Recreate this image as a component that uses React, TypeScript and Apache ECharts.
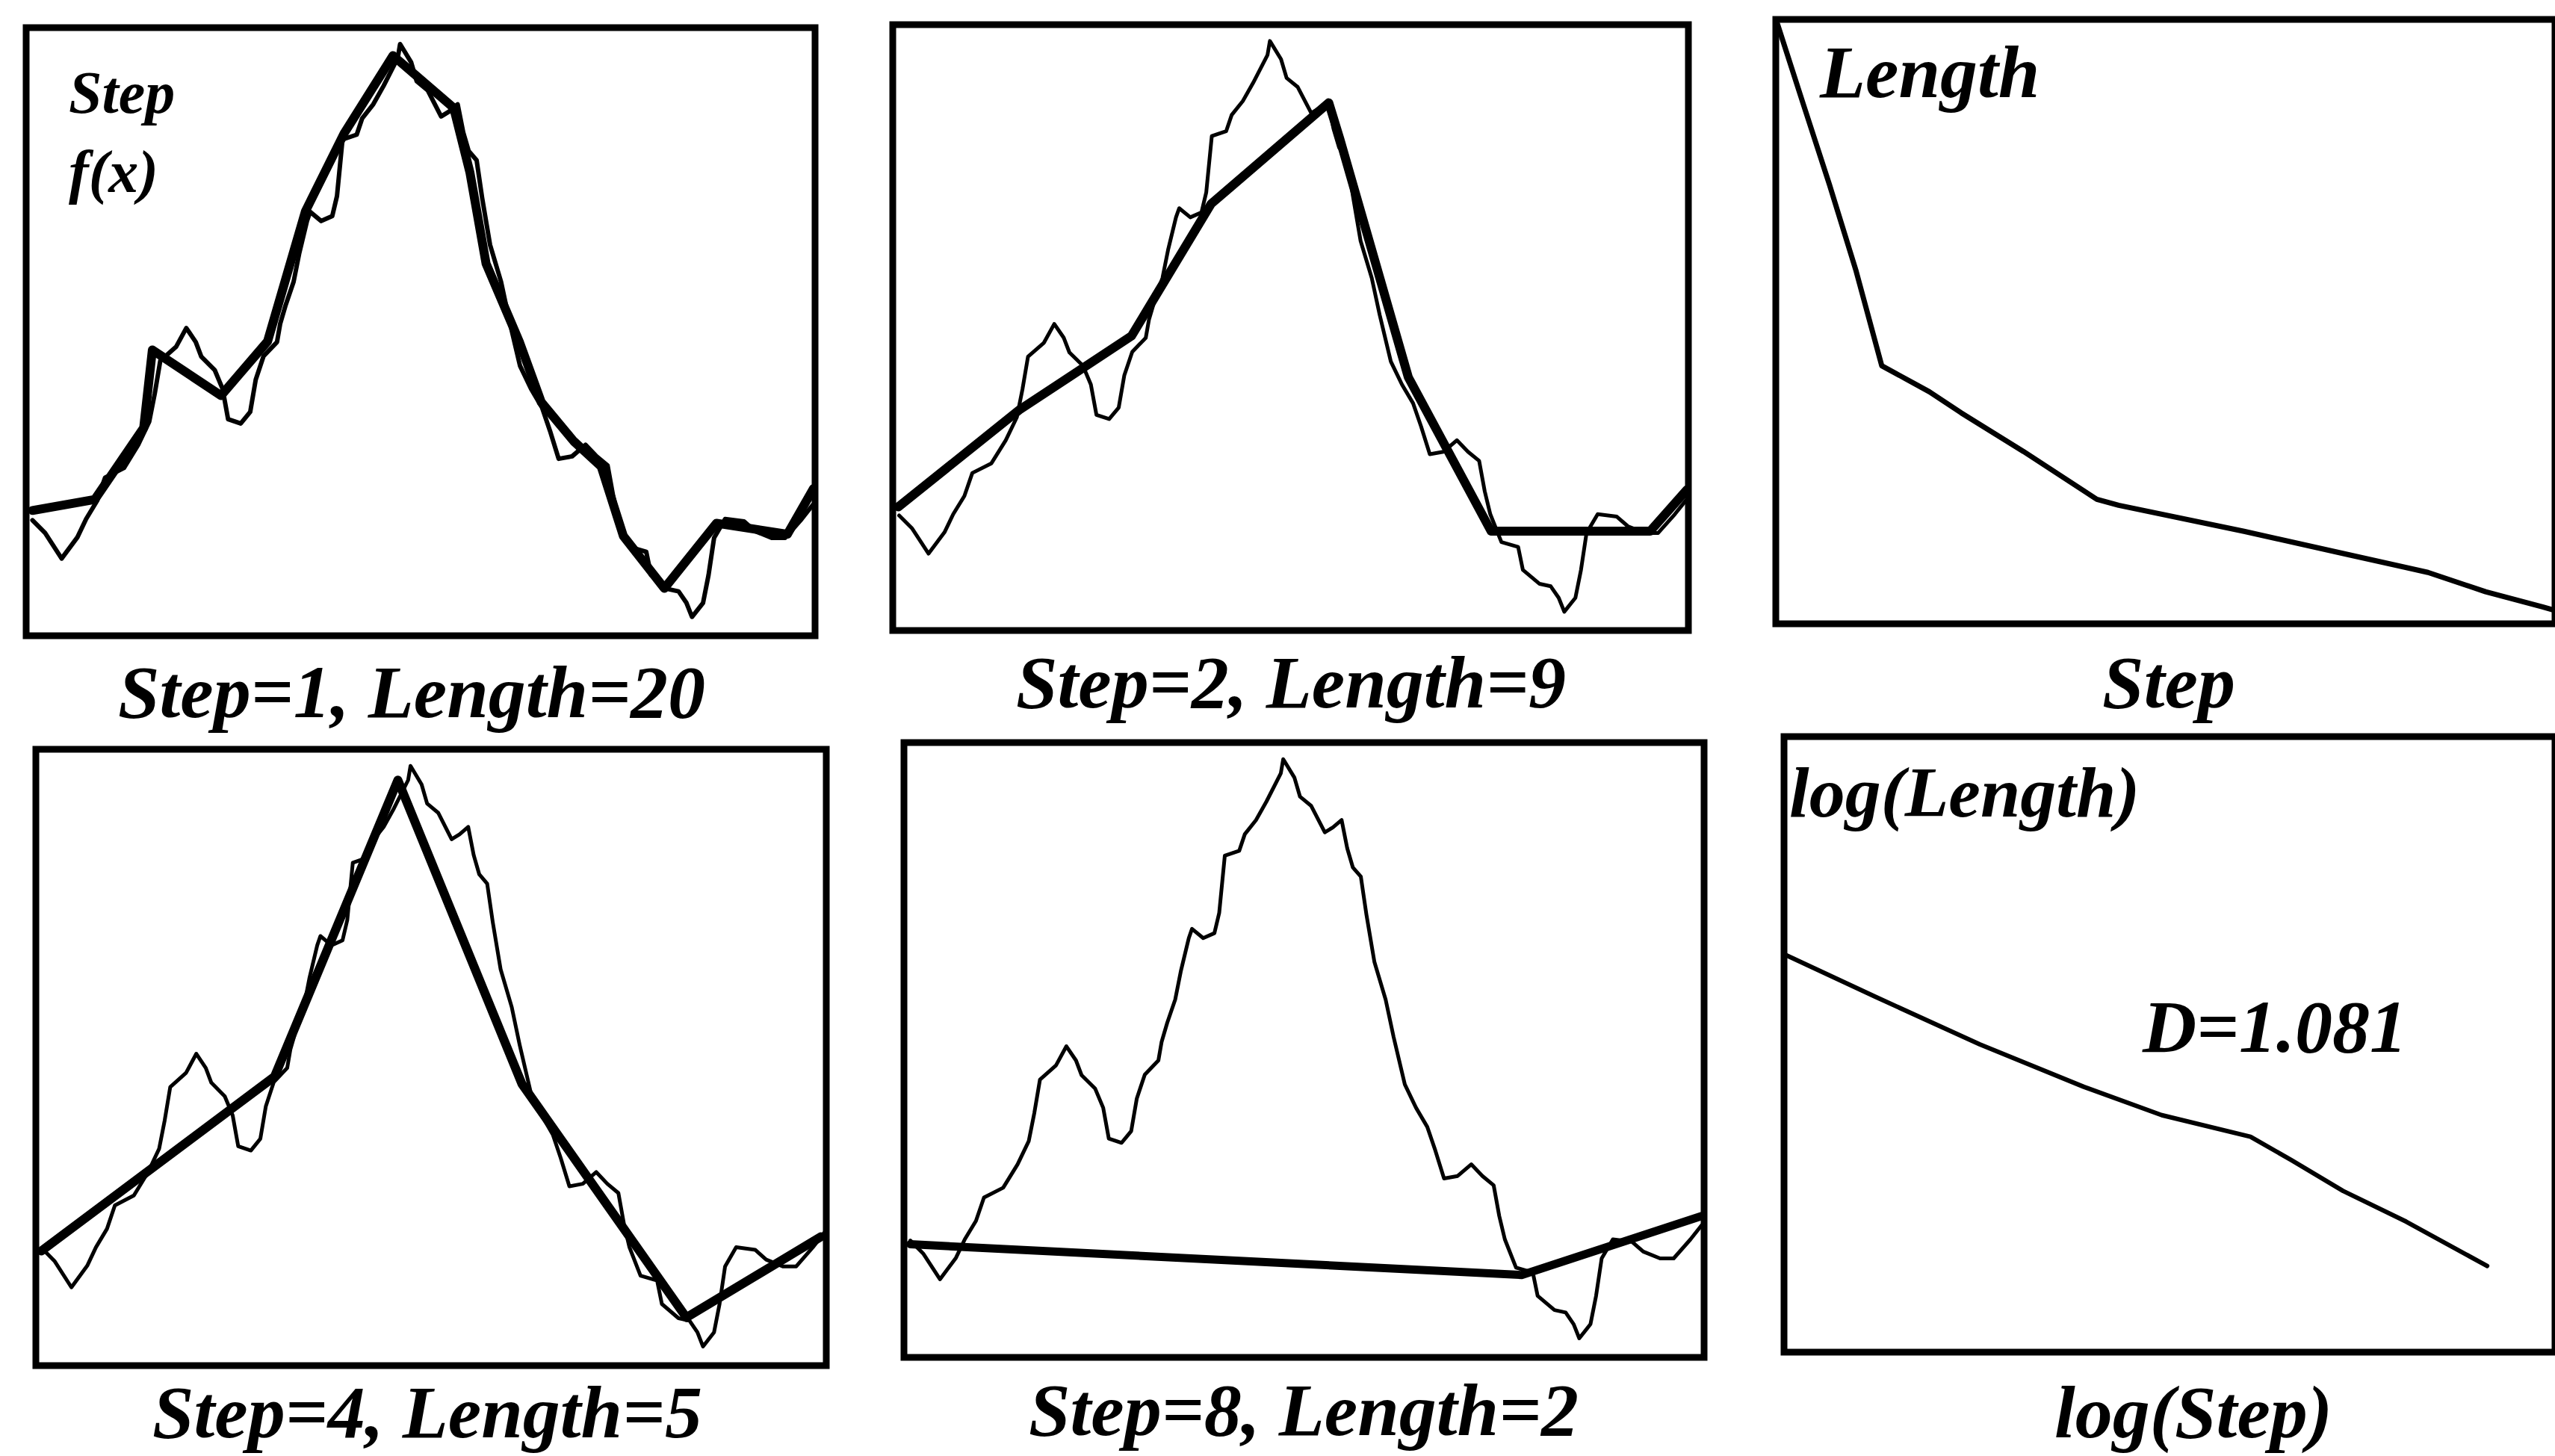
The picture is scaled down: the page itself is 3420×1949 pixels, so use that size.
import React, { useEffect, useRef } from "react";
import * as echarts from "echarts";

// f(x): the jagged profile (normalised: x and y from 0 to 1 across each box)
const curveX = [0.008, 0.024, 0.045, 0.065, 0.076, 0.09, 0.1, 0.124, 0.142, 0.156, 0.163, 0.17, 0.19, 0.203, 0.215, 0.222, 0.239, 0.249, 0.256, 0.272, 0.284, 0.291, 0.301, 0.318, 0.322, 0.329, 0.339, 0.346, 0.356, 0.36, 0.374, 0.388, 0.394, 0.401, 0.419, 0.426, 0.44, 0.453, 0.471, 0.474, 0.488, 0.495, 0.509, 0.526, 0.536, 0.547, 0.554, 0.561, 0.571, 0.578, 0.588, 0.602, 0.612, 0.626, 0.64, 0.654, 0.664, 0.675, 0.692, 0.709, 0.723, 0.737, 0.744, 0.751, 0.765, 0.786, 0.792, 0.813, 0.827, 0.837, 0.844, 0.858, 0.865, 0.872, 0.886, 0.91, 0.924, 0.945, 0.962, 0.983, 0.997];
const curveY = [0.19, 0.169, 0.127, 0.162, 0.192, 0.222, 0.26, 0.276, 0.314, 0.352, 0.398, 0.452, 0.475, 0.506, 0.483, 0.459, 0.437, 0.406, 0.356, 0.349, 0.368, 0.421, 0.46, 0.483, 0.513, 0.544, 0.582, 0.628, 0.682, 0.697, 0.682, 0.69, 0.723, 0.816, 0.824, 0.851, 0.874, 0.904, 0.95, 0.973, 0.943, 0.912, 0.897, 0.854, 0.862, 0.874, 0.828, 0.797, 0.782, 0.72, 0.643, 0.582, 0.521, 0.444, 0.406, 0.375, 0.337, 0.291, 0.295, 0.314, 0.295, 0.28, 0.23, 0.192, 0.146, 0.138, 0.1, 0.077, 0.073, 0.054, 0.031, 0.054, 0.1, 0.161, 0.192, 0.188, 0.172, 0.161, 0.161, 0.192, 0.215];

// polyline approximations
const step1X = [0.008, 0.087, 0.149, 0.16, 0.247, 0.306, 0.354, 0.403, 0.465, 0.542, 0.5625, 0.583, 0.625, 0.653, 0.694, 0.729, 0.757, 0.809, 0.875, 0.965, 0.998];
const step1Y = [0.206, 0.224, 0.342, 0.47, 0.395, 0.484, 0.698, 0.826, 0.954, 0.868, 0.762, 0.612, 0.484, 0.384, 0.32, 0.278, 0.164, 0.078, 0.185, 0.167, 0.242];
const step2X = [0.007, 0.159, 0.3, 0.4, 0.548, 0.562, 0.648, 0.752, 0.952, 0.998];
const step2Y = [0.204, 0.364, 0.486, 0.704, 0.871, 0.811, 0.418, 0.164, 0.164, 0.232];
const step4X = [0.007, 0.302, 0.458, 0.615, 0.823, 0.993];
const step4Y = [0.186, 0.469, 0.95, 0.457, 0.078, 0.209];
const step8X = [0.008, 0.772, 0.997];
const step8Y = [0.184, 0.134, 0.23];

// Length vs Step
const lengthStepX = [0.002, 0.035, 0.069, 0.103, 0.136, 0.197, 0.238, 0.318, 0.412, 0.44, 0.601, 0.736, 0.837, 0.911, 0.984, 1.0];
const lengthY = [0.993, 0.861, 0.726, 0.584, 0.427, 0.384, 0.349, 0.285, 0.206, 0.196, 0.153, 0.114, 0.085, 0.053, 0.028, 0.022];

// log(Length) vs log(Step)
const logStepX = [0.001, 0.119, 0.254, 0.389, 0.49, 0.605, 0.658, 0.725, 0.807, 0.912];
const logLengthY = [0.646, 0.577, 0.5, 0.431, 0.385, 0.35, 0.312, 0.262, 0.212, 0.14];

const captions = ["Step=1, Length=20", "Step=2, Length=9", "Step", "Step=4, Length=5", "Step=8, Length=2", "log(Step)"];
const innerLabels = ["Step", "f(x)", "Length", "log(Length)", "D=1.081"];

const zip = (xs: number[], ys: number[]) => xs.map((x, i) => [x, ys[i]]);

const grids = [
  { left: 35, top: 37, width: 1056, height: 814 },
  { left: 1195, top: 33, width: 1065, height: 811 },
  { left: 2377, top: 26, width: 1060, height: 809 },
  { left: 48, top: 1003, width: 1058, height: 825 },
  { left: 1210, top: 994, width: 1071, height: 823 },
  { left: 2388, top: 986, width: 1060, height: 824 },
];

const captionPos = [
  [551, 926],
  [1728, 913],
  [2903, 913],
  [572, 1890],
  [1745, 1887],
  [2936, 1890],
];

const FONT = "'Liberation Serif', 'Times New Roman', serif";

export default function App() {
  const ref = useRef<HTMLDivElement>(null);
  useEffect(() => {
    document.body.style.margin = "0";
    const chart = echarts.init(ref.current!, null, { renderer: "svg" });
    const line = (gi: number, data: number[][], w: number, z: number) => ({
      type: "line",
      xAxisIndex: gi,
      yAxisIndex: gi,
      data,
      symbol: "none",
      clip: false,
      lineStyle: { color: "#000", width: w, join: "round", cap: "round" },
      z,
    });
    const textEl = (text: string, x: number, y: number, size: number, align = "center") => ({
      type: "text",
      x,
      y,
      style: {
        text,
        fill: "#000",
        font: `italic bold ${size}px ${FONT}`,
        align,
        verticalAlign: "middle",
      },
    });
    const option: any = {
      animation: false,
      backgroundColor: "#fff",
      grid: grids.map((g) => ({ ...g, show: true, borderColor: "#000", borderWidth: 9, backgroundColor: "transparent" })),
      xAxis: grids.map((_, i) => ({ type: "value", gridIndex: i, min: 0, max: 1, show: false })),
      yAxis: grids.map((_, i) => ({ type: "value", gridIndex: i, min: 0, max: 1, show: false })),
      series: [
        line(0, zip(curveX, curveY), 6, 3),
        line(0, zip(step1X, step1Y), 12, 4),
        line(1, zip(curveX, curveY), 5, 3),
        line(1, zip(step2X, step2Y), 12, 4),
        line(2, zip(lengthStepX, lengthY), 7, 4),
        line(3, zip(curveX, curveY), 5, 3),
        line(3, zip(step4X, step4Y), 12, 4),
        line(4, zip(curveX, curveY), 5, 3),
        line(4, zip(step8X, step8Y), 11, 4),
        line(5, zip(logStepX, logLengthY), 6, 4),
      ],
      graphic: [
        ...captions.map((c, i) => textEl(c, captionPos[i][0], captionPos[i][1], 100)),
        textEl(innerLabels[0], 92, 124, 80, "left"),
        textEl(innerLabels[1], 92, 230, 80, "left"),
        textEl(innerLabels[2], 2436, 96, 100, "left"),
        textEl(innerLabels[3], 2395, 1060, 96, "left"),
        textEl(innerLabels[4], 3045, 1374, 100),
      ],
    };
    chart.setOption(option);
    return () => chart.dispose();
  }, []);
  return <div ref={ref} style={{ position: "absolute", left: 0, top: 0, width: 3420, height: 1949 }} />;
}
